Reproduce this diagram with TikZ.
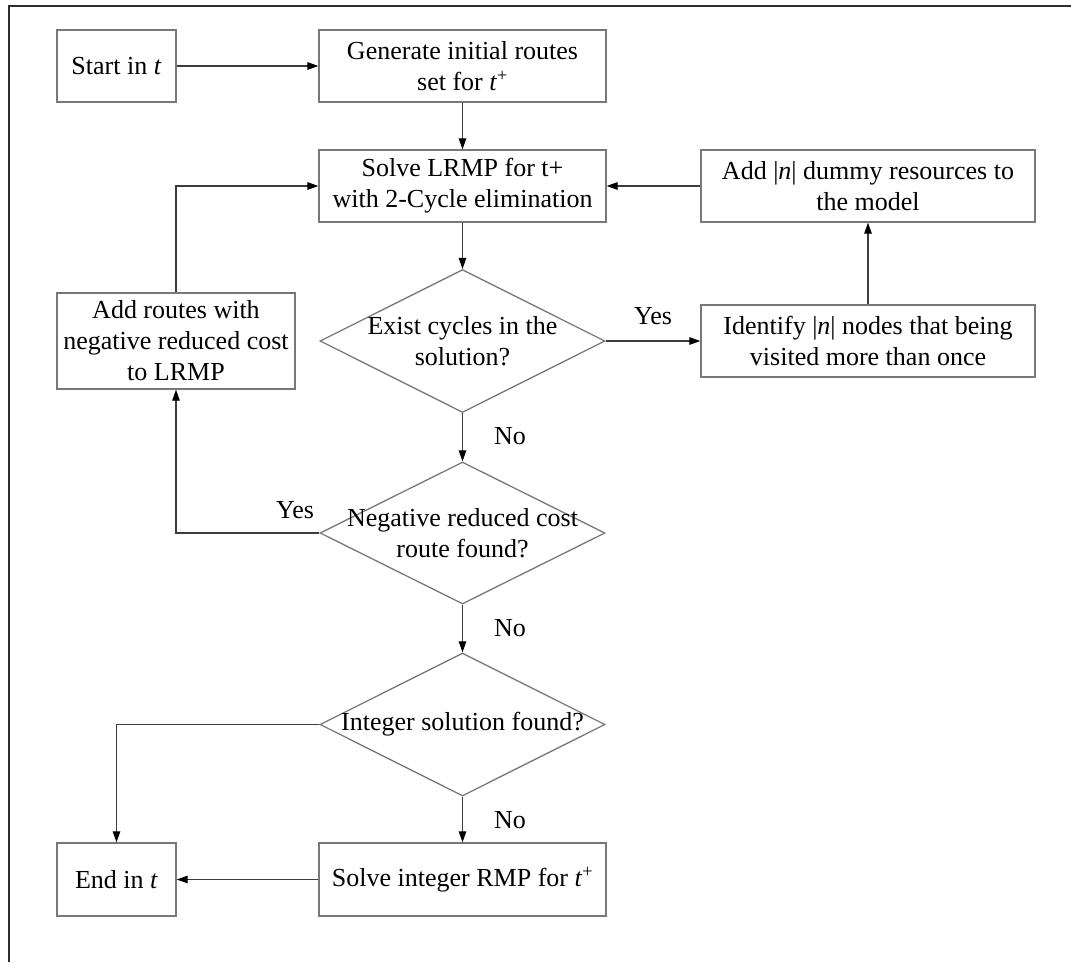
\documentclass[tikz,border=0pt]{standalone}
\usepackage{fontspec}
\setmainfont{Liberation Serif}
\usetikzlibrary{shapes.geometric,arrows.meta}
\definecolor{boxline}{RGB}{120,120,120}
\definecolor{wire}{RGB}{60,60,60}
\definecolor{framecol}{RGB}{45,45,45}
\begin{document}
\begin{tikzpicture}[x=1pt,y=-1pt,
  txt/.style={font=\fontsize{26}{31}\selectfont},
  procbox/.style={txt,draw=boxline,line width=1.3pt,rectangle,align=center,inner sep=0pt},
  decide/.style={draw=boxline,line width=1.3pt,diamond,inner sep=0pt,minimum width=285pt,minimum height=143pt},
  arr/.style={draw=wire,line width=1.1pt,-{Triangle[length=11pt,width=7.5pt,color=black]}},
  lbl/.style={txt,inner sep=0pt},
  framed/.style={draw=framecol,line width=2pt}]
\useasboundingbox (0,0) rectangle (1071,962);

% page frame (top and left edges)
\draw[framed] (9,962) -- (9,6) -- (1071,6);

% process boxes
\node[procbox,minimum width=119pt,minimum height=72pt] (start) at (116.5,66) {Start in \textit{t}};
\node[procbox,minimum width=287pt,minimum height=72pt] (gen) at (462.5,66) {Generate initial routes\\set for \textit{t}\textsuperscript{+}};
\node[procbox,minimum width=287pt,minimum height=72pt] (lrmp) at (462.5,186) {Solve LRMP for t+\\with 2-Cycle elimination};
\node[procbox,minimum width=334pt,minimum height=72pt] (dummy) at (868,186) {Add |\textit{n}| dummy resources to\\the model};
\node[procbox,minimum width=334pt,minimum height=72pt] (ident) at (868,341) {Identify |\textit{n}| nodes that being\\visited more than once};
\node[procbox,minimum width=238pt,minimum height=96pt] (addr) at (176,341) {Add routes with\\negative reduced cost\\to LRMP};
\node[procbox,minimum width=119pt,minimum height=73pt] (endn) at (116.5,879.5) {End in \textit{t}};
\node[procbox,minimum width=287pt,minimum height=73pt] (sri) at (462.5,879.5) {Solve integer RMP for \textit{t}\textsuperscript{+}};

% decisions
\node[decide,label={[txt,align=center]center:Exist cycles in the\\solution?}] (d1) at (462.5,341) {};
\node[decide,minimum height=142pt,label={[txt,align=center]center:Negative reduced cost\\route found?}] (d2) at (462.5,533) {};
\node[decide,label={[txt,align=center]center:Integer solution found?}] (d3) at (462.5,724.5) {};

% connectors
\draw[arr] (start) -- (gen);
\draw[arr] (gen) -- (lrmp);
\draw[arr] (lrmp) -- (d1);
\draw[arr] (d1) -- (ident);
\draw[arr] (ident) -- (dummy);
\draw[arr] (dummy) -- (lrmp);
\draw[arr] (d1) -- (d2);
\draw[arr] (d2.west) -| (addr.south);
\draw[arr] (addr.north) |- (lrmp.west);
\draw[arr] (d2) -- (d3);
\draw[arr] (d3.west) -| (endn.north);
\draw[arr] (d3) -- (sri);
\draw[arr] (sri) -- (endn);

% branch labels
\node[lbl] (yes1) at (653,316) {Yes};
\node[lbl] (no1) at (510,436) {No};
\node[lbl] (yes2) at (295,510) {Yes};
\node[lbl] (no2) at (510,628) {No};
\node[lbl] (no3) at (510,820) {No};
\end{tikzpicture}
\end{document}
